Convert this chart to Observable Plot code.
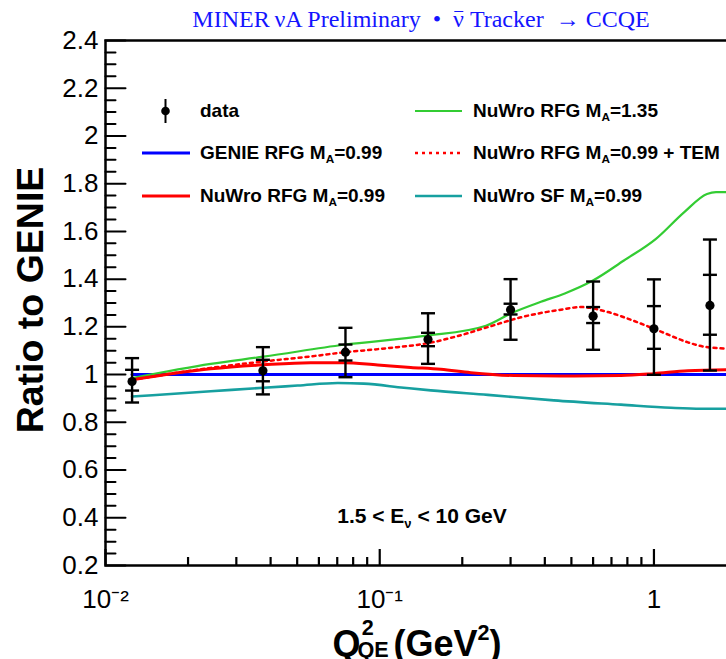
<!DOCTYPE html>
<html>
<head>
<meta charset="utf-8">
<script src="https://cdn.jsdelivr.net/npm/d3@7"></script>
<script src="https://cdn.jsdelivr.net/npm/@observablehq/plot@0.6"></script>
<style>
html,body{margin:0;padding:0;background:#fff;overflow:hidden;}
#wrap{position:relative;width:726px;height:659px;overflow:hidden;font-family:"Liberation Sans",Arial,Helvetica,sans-serif;color:#000;}
#wrap > svg{position:absolute;left:0;top:0;}
.ov{position:absolute;white-space:nowrap;line-height:1;}
#title{font-family:"Liberation Serif","Times New Roman",serif;font-size:24px;color:#1414ff;left:421px;top:7px;transform:translateX(-50%);}
.bar{position:relative;}
.bar::before{content:"";position:absolute;left:0.04em;right:0.04em;top:0.2em;border-top:1.6px solid #1414ff;}
#ylab{font-weight:bold;font-size:37.5px;left:31px;top:300px;transform:translate(-50%,-50%) rotate(-90deg);}
#xlab{font-weight:bold;font-size:36px;left:417px;top:620px;transform:translateX(-50%);}
#ann{font-weight:bold;font-size:21px;left:422px;top:505px;transform:translateX(-50%);}
.leg{font-weight:bold;font-size:19px;}
.sb{font-size:0.62em;position:relative;top:0.38em;}
.sp{font-size:0.6em;position:relative;top:-0.72em;}
.ss{display:inline-block;position:relative;width:0.72em;height:1em;}
.ss .a{position:absolute;left:0.06em;top:-0.14em;font-size:0.6em;}
.ss .b{position:absolute;left:-0.14em;top:0.88em;font-size:0.6em;}
#legsvg{position:absolute;left:0;top:0;pointer-events:none;}
</style>
</head>
<body>
<div id="wrap"></div>
<script>
// ---------- data ----------
const dataQ2     = [0.0125, 0.0375, 0.075, 0.15, 0.3, 0.6, 1.0, 1.6];
const dataRatio  = [0.971, 1.016, 1.094, 1.147, 1.272, 1.245, 1.192, 1.290];
const dataStatLo = [0.933, 0.972, 1.059, 1.119, 1.252, 1.216, 1.108, 1.167];
const dataStatHi = [1.020, 1.062, 1.126, 1.175, 1.297, 1.283, 1.287, 1.418];
const dataTotLo  = [0.883, 0.917, 0.989, 1.045, 1.146, 1.104, 0.999, 1.017];
const dataTotHi  = [1.069, 1.115, 1.196, 1.257, 1.400, 1.390, 1.399, 1.566];

const genieQ2    = [0.0125, 1.9];
const genieRatio = [1.0, 1.0];

const sfQ2    = [0.0125, 0.0242, 0.0377, 0.0502, 0.0703, 0.0874, 0.1224, 0.1535, 0.2478, 0.4315, 0.7578, 1.153, 1.484, 1.9];
const sfRatio = [0.908, 0.930, 0.945, 0.954, 0.965, 0.962, 0.945, 0.934, 0.915, 0.892, 0.874, 0.861, 0.857, 0.857];

const ma135Q2    = [0.0125, 0.0242, 0.0377, 0.0739, 0.146, 0.244, 0.303, 0.387, 0.473, 0.599, 0.777, 1.017, 1.287, 1.561, 1.684, 1.9];
const ma135Ratio = [0.985, 1.045, 1.075, 1.125, 1.162, 1.205, 1.258, 1.305, 1.340, 1.394, 1.478, 1.569, 1.680, 1.757, 1.765, 1.765];

const rfgQ2    = [0.0125, 0.0242, 0.0377, 0.056, 0.0739, 0.0983, 0.1298, 0.167, 0.2148, 0.3084, 0.4576, 0.7578, 1.0, 1.331, 1.9];
const rfgRatio = [0.978, 1.024, 1.041, 1.050, 1.050, 1.040, 1.030, 1.022, 1.008, 0.996, 0.994, 0.996, 1.004, 1.016, 1.020];

const temQ2    = [0.0125, 0.0242, 0.0377, 0.056, 0.0751, 0.1052, 0.1535, 0.1862, 0.2478, 0.327, 0.4576, 0.5416, 0.6793, 0.8453, 1.0605, 1.331, 1.522, 1.9];
const temRatio = [0.978, 1.028, 1.055, 1.076, 1.094, 1.110, 1.134, 1.157, 1.199, 1.240, 1.272, 1.283, 1.262, 1.225, 1.180, 1.135, 1.117, 1.108];

const yTicks      = [0.2, 0.4, 0.6, 0.8, 1.0, 1.2, 1.4, 1.6, 1.8, 2.0, 2.2, 2.4];
const yTickLabels = ["0.2", "0.4", "0.6", "0.8", "1", "1.2", "1.4", "1.6", "1.8", "2", "2.2", "2.4"];
const xTicks      = [0.01, 0.1, 1];
const xTickLabels = ["10\u207B\u00B2", "10\u207B\u00B9", "1"];
const xMinorTicks = [0.02, 0.03, 0.04, 0.05, 0.06, 0.07, 0.08, 0.09, 0.2, 0.3, 0.4, 0.5, 0.6, 0.7, 0.8, 0.9];

const legendText  = [["data","",""], ["GENIE RFG M","A","=0.99"], ["NuWro RFG M","A","=0.99"],
                     ["NuWro RFG M","A","=1.35"], ["NuWro RFG M","A","=0.99 + TEM"], ["NuWro SF M","A","=0.99"]];
const legendColor = ["#000", "#0000ff", "#ff0000", "#33cc33", "#ff0000", "#17a0a0"];
const legendDash  = [null, null, null, null, "3,4", null];
const legendWidth = [0, 3, 3, 2.2, 2.5, 2.6];

// ---------- chart ----------
const W = 726, H = 659, mTop = 40, mBottom = 94;
const yDomain = [0.2, 2.4];
const yPerPx = (yDomain[1] - yDomain[0]) / (H - mTop - mBottom);
const yMinor = d3.range(0.2, 2.4001, 0.05).filter(v => Math.abs(v * 5 - Math.round(v * 5)) > 1e-6);

// x-axis tick table: position, bottom end, top end (inward ticks)
const xTickAll  = xTicks.concat(xMinorTicks);
const xTickLow  = xTickAll.map(() => yDomain[0]);
const xTickHigh = xTickAll.map((d, i) => yDomain[0] + (i < xTicks.length ? 16 : 8) * yPerPx);

const tickShape = {draw(ctx, l) { ctx.moveTo(0, 0); ctx.lineTo(0, -l); }};
const capSymbol = {draw(ctx) { ctx.moveTo(-7, 0); ctx.lineTo(7, 0); }};

const line = (xs, ys, opts) => Plot.line(xs, {x: d => d, y: (d, i) => ys[i], curve: "monotone-x", ...opts});
const caps = (arr) => Plot.dot(dataQ2, {x: d => d, y: (d, i) => arr[i], symbol: capSymbol, stroke: "black", fill: "none", strokeWidth: 2.4});

const chart = Plot.plot({
  width: W,
  height: H,
  marginLeft: 105,
  marginRight: -10,
  marginTop: mTop,
  marginBottom: mBottom,
  style: {fontFamily: "'Liberation Sans', Arial, Helvetica, sans-serif", background: "white", color: "black"},
  x: {type: "log", domain: [0.01, 2], axis: null},
  y: {domain: yDomain, axis: null},
  marks: [
    Plot.axisY(yTicks, {tickSize: 0, tickPadding: 7, fontSize: 26, tickFormat: (d, i) => yTickLabels[i], label: null}),
    Plot.text(xTicks, {x: d => d, frameAnchor: "bottom", dy: 34, text: (d, i) => xTickLabels[i], fontSize: 26, fill: "black", lineAnchor: "middle", textAnchor: "middle"}),
    line(genieQ2, genieRatio, {stroke: "#0000ff", strokeWidth: 3}),
    line(sfQ2, sfRatio, {stroke: "#17a0a0", strokeWidth: 2.6}),
    line(ma135Q2, ma135Ratio, {stroke: "#33cc33", strokeWidth: 2.2}),
    line(rfgQ2, rfgRatio, {stroke: "#ff0000", strokeWidth: 3}),
    line(temQ2, temRatio, {stroke: "#ff0000", strokeWidth: 2.5, strokeDasharray: "3,4"}),
    Plot.ruleX(dataQ2, {x: d => d, y1: (d, i) => dataTotLo[i], y2: (d, i) => dataTotHi[i], stroke: "black", strokeWidth: 2.4}),
    caps(dataTotLo), caps(dataTotHi), caps(dataStatLo), caps(dataStatHi),
    Plot.dot(dataQ2, {x: d => d, y: (d, i) => dataRatio[i], r: 4.6, fill: "black", stroke: "none"}),
    Plot.vector(yTicks, {y: d => d, frameAnchor: "left", rotate: 90, length: 20, anchor: "start", shape: tickShape, stroke: "black", strokeWidth: 2}),
    Plot.vector(yMinor, {y: d => d, frameAnchor: "left", rotate: 90, length: 10, anchor: "start", shape: tickShape, stroke: "black", strokeWidth: 2}),
    Plot.frame({stroke: "black", strokeWidth: 2.5}),
    Plot.ruleX(xTickAll, {x: d => d, y1: (d, i) => xTickLow[i], y2: (d, i) => xTickHigh[i], stroke: "black", strokeWidth: 2.2})
  ]
});

const wrap = document.getElementById("wrap");
wrap.appendChild(chart);

// ---------- texts ----------
function addDiv(id, cls, html) {
  const d = document.createElement("div");
  if (id) d.id = id;
  d.className = cls;
  d.innerHTML = html;
  wrap.appendChild(d);
  return d;
}
addDiv("title", "ov", "MINER\u2009\u03BDA Preliminary&nbsp;&nbsp;\u2022&nbsp;&nbsp;<span class='bar'>\u03BD</span> Tracker&nbsp;&nbsp;\u2192 CCQE");
addDiv("ylab", "ov", "Ratio to GENIE");
addDiv("xlab", "ov", "Q<span class='ss'><span class='a'>2</span><span class='b'>QE</span></span>\u2009(GeV<span class='sp'>2</span>)");
addDiv("ann", "ov", "1.5 &lt; E<span class='sb'>\u03BD</span> &lt; 10 GeV");

// ---------- legend ----------
const legRowY = [111, 153, 196];
const legSwatchX = [[142, 190], [415, 462]];
const legTextX = [200, 473];
const lsvg = d3.select(wrap).append("svg").attr("id", "legsvg").attr("width", W).attr("height", H);
legendText.forEach((t, i) => {
  const col = Math.floor(i / 3), row = i % 3;
  const y = legRowY[row];
  const [x0, x1] = legSwatchX[col];
  if (i === 0) {
    const cx = (x0 + x1) / 2 - 0.5;
    lsvg.append("line").attr("x1", cx).attr("x2", cx).attr("y1", y - 12).attr("y2", y + 12).attr("stroke", "#000").attr("stroke-width", 2);
    lsvg.append("circle").attr("cx", cx).attr("cy", y).attr("r", 4.3).attr("fill", "#000");
  } else {
    lsvg.append("line").attr("x1", x0).attr("x2", x1).attr("y1", y).attr("y2", y)
      .attr("stroke", legendColor[i]).attr("stroke-width", legendWidth[i])
      .attr("stroke-dasharray", legendDash[i]);
  }
  const html = t[0] + (t[1] ? "<span class='sb'>" + t[1] + "</span>" : "") + t[2];
  const d = addDiv(null, "ov leg", html);
  d.style.left = legTextX[col] + "px";
  d.style.top = (y - 10) + "px";
});
</script>
</body>
</html>
